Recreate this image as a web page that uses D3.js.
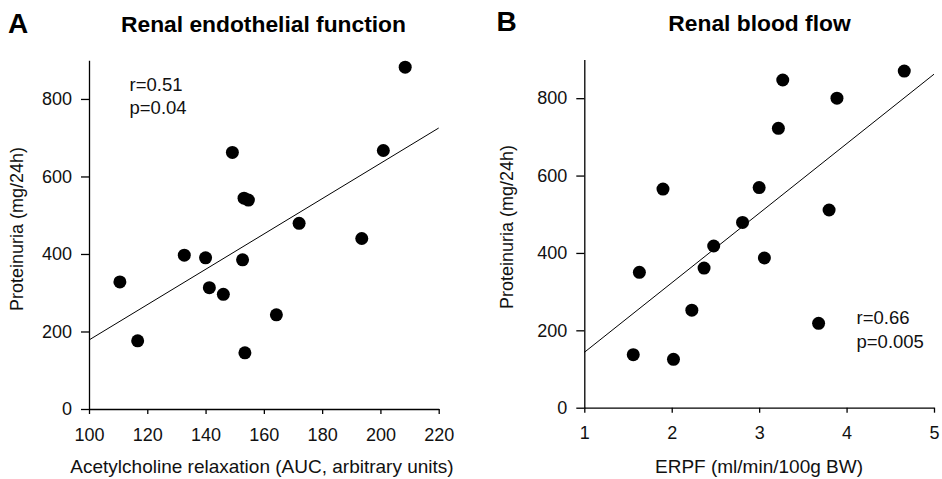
<!DOCTYPE html>
<html>
<head>
<meta charset="utf-8">
<script src="https://cdn.jsdelivr.net/npm/d3@7"></script>
<style>
  html, body { margin: 0; padding: 0; background: #fff; }
  svg { display: block; font-family: "Liberation Sans", Arial, Helvetica, sans-serif; }
</style>
</head>
<body>
<svg id="chart" width="942" height="479"></svg>
<script>
// ---- Data ----
// Panel A: Renal endothelial function
const achRelaxation = [110.6, 116.7, 132.7, 140.0, 141.3, 146.1, 152.7, 153.5, 164.3, 149.2, 153.2, 154.7, 172.1, 193.6, 201.0, 208.5];
const proteinuriaA  = [328, 176, 397, 390, 313, 296, 385, 145, 243, 662, 544, 539, 479, 440, 667, 882];
const fitA = [[100, 178], [220, 725]];
const xTicksA = [100, 120, 140, 160, 180, 200, 220];

// Panel B: Renal blood flow
const erpf         = [1.56, 1.63, 2.02, 2.23, 2.37, 2.48, 3.06, 3.68, 1.90, 2.81, 3.00, 3.22, 3.27, 3.80, 3.89, 4.66];
const proteinuriaB = [137, 350, 125, 252, 361, 418, 387, 218, 565, 479, 569, 722, 847, 511, 800, 870];
const fitB = [[1, 143], [5, 862]];
const xTicksB = [1, 2, 3, 4, 5];

const yTicks = [0, 200, 400, 600, 800];

const panels = [
  {
    letter: "A", title: "Renal endothelial function",
    xLabel: "Acetylcholine relaxation (AUC, arbitrary units)",
    yLabel: "Proteinuria (mg/24h)",
    xs: achRelaxation, ys: proteinuriaA, fit: fitA,
    xDomain: [100, 220], xTicks: xTicksA,
    stats: ["r=0.51", "p=0.04"],
    layout: { x0: 89, x1: 438.7, y0: 409, y1: 60.2,
              letter: [8, 32.5], title: [263.5, 31.5],
              stats: [129.5, 90.5], yLab: [22.5, 229], xLab: [262, 473] }
  },
  {
    letter: "B", title: "Renal blood flow",
    xLabel: "ERPF (ml/min/100g BW)",
    yLabel: "Proteinuria (mg/24h)",
    xs: erpf, ys: proteinuriaB, fit: fitB,
    xDomain: [1, 5], xTicks: xTicksB,
    stats: ["r=0.66", "p=0.005"],
    layout: { x0: 584.3, x1: 934, y0: 407.7, y1: 59.5,
              letter: [496.5, 30.5], title: [759.5, 30.5],
              stats: [856.5, 324], yLab: [512.5, 227], xLab: [759, 473] }
  }
];

const svg = d3.select("#chart");

panels.forEach(p => {
  const L = p.layout;
  const x = d3.scaleLinear().domain(p.xDomain).range([L.x0, L.x1]);
  const y = d3.scaleLinear().domain([0, 900]).range([L.y0, L.y1]);
  const g = svg.append("g");

  // axes
  const yAxis = d3.axisLeft(y).tickValues(yTicks).tickSize(8).tickSizeOuter(0).tickPadding(9)
    .tickFormat(d3.format("d"));
  const xAxis = d3.axisBottom(x).tickValues(p.xTicks).tickSize(5).tickSizeOuter(0).tickPadding(14)
    .tickFormat(d3.format("d"));

  const ya = g.append("g").attr("transform", `translate(${L.x0},0)`).call(yAxis);
  const xa = g.append("g").attr("transform", `translate(0,${L.y0})`).call(xAxis);
  [ya, xa].forEach(a => {
    a.selectAll("path.domain").attr("stroke", "#000").attr("stroke-width", 1.3);
    a.selectAll(".tick line").attr("stroke", "#000").attr("stroke-width", 1.3);
    a.selectAll(".tick text").attr("fill", "#111").style("font-size", "18px")
      .style("font-family", '"Liberation Sans", Arial, sans-serif');
  });

  // regression line
  g.append("line")
    .attr("x1", x(p.fit[0][0])).attr("y1", y(p.fit[0][1]))
    .attr("x2", x(p.fit[1][0])).attr("y2", y(p.fit[1][1]))
    .attr("stroke", "#000").attr("stroke-width", 1);

  // points
  g.selectAll("circle.pt").data(p.xs.map((v, i) => [v, p.ys[i]]))
    .enter().append("circle").attr("class", "pt")
    .attr("cx", d => x(d[0])).attr("cy", d => y(d[1]))
    .attr("r", 6.5).attr("fill", "#000");

  // texts
  g.append("text").attr("x", L.letter[0]).attr("y", L.letter[1])
    .style("font-size", "28px").style("font-weight", "bold").text(p.letter);
  g.append("text").attr("x", L.title[0]).attr("y", L.title[1]).attr("text-anchor", "middle")
    .style("font-size", "22.8px").style("font-weight", "bold").text(p.title);
  p.stats.forEach((s, i) => {
    g.append("text").attr("x", L.stats[0]).attr("y", L.stats[1] + i * 23.5)
      .style("font-size", "18.5px").attr("fill", "#111").text(s);
  });
  g.append("text").attr("transform", `translate(${L.yLab[0]},${L.yLab[1]}) rotate(-90)`)
    .attr("text-anchor", "middle").style("font-size", "18px").attr("fill", "#111").text(p.yLabel);
  g.append("text").attr("x", L.xLab[0]).attr("y", L.xLab[1]).attr("text-anchor", "middle")
    .style("font-size", "19px").attr("fill", "#111").text(p.xLabel);
});
</script>
</body>
</html>
